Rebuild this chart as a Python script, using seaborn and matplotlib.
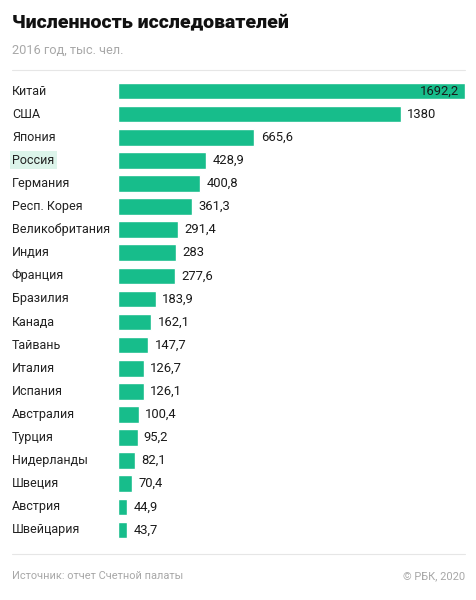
import matplotlib
matplotlib.use("Agg")
import matplotlib.pyplot as plt
import matplotlib.transforms as mtransforms
import seaborn as sns
import pandas as pd

countries = ["Китай", "США", "Япония", "Россия", "Германия", "Респ. Корея",
             "Великобритания", "Индия", "Франция", "Бразилия", "Канада",
             "Тайвань", "Италия", "Испания", "Австралия", "Турция",
             "Нидерланды", "Швеция", "Австрия", "Швейцария"]
values = [1692.2, 1380, 665.6, 428.9, 400.8, 361.3, 291.4, 283, 277.6, 183.9,
          162.1, 147.7, 126.7, 126.1, 100.4, 95.2, 82.1, 70.4, 44.9, 43.7]
highlight = "Россия"

title = "Численность исследователей"
subtitle = "2016 год, тыс. чел."
source = "Источник: отчет Счетной палаты"
copyright_ = "© РБК, 2020"

df = pd.DataFrame({"country": countries, "value": values})

sns.set_theme(style="white")
plt.rcParams['font.family'] = ['Roboto', 'DejaVu Sans']

W, H = 477, 600
fig = plt.figure(figsize=(W / 100, H / 100), dpi=100)
fig.patch.set_facecolor("white")

ax = fig.add_axes([118 / W, 1 - 541.5 / H, (465 - 118) / W, (541.5 - 79.5) / H])
green = "#17bd8b"
sns.barplot(data=df, x="value", y="country", color=green, saturation=1,
            width=0.72, ax=ax, orient="h")
ax.set_xlim(0, max(values))
ax.set_xlabel("")
ax.set_ylabel("")
ax.set_xticks([])
ax.set_yticks([])
for s in ax.spines.values():
    s.set_visible(False)
ax.set_facecolor("none")

def fmt(v):
    s = f"{v:.1f}".rstrip("0").rstrip(".")
    return s.replace(".", ",")

trans_lab = mtransforms.blended_transform_factory(fig.transFigure, ax.transData)
for i, (c, v) in enumerate(zip(countries, values)):
    if c == highlight:
        ax.text(12 / W, i, c, transform=trans_lab, ha="left", va="center",
                fontsize=9.0, color="#222222",
                bbox=dict(boxstyle="square,pad=0.2", fc="#dcf4ea", ec="none"))
    else:
        ax.text(12 / W, i, c, transform=trans_lab, ha="left", va="center",
                fontsize=9.0, color="#222222")
    if v == max(values):
        ax.annotate(fmt(v), xy=(v, i), xytext=(-4, 0), textcoords="offset points",
                    ha="right", va="center", fontsize=9.4, color="#1a1a1a")
    else:
        ax.annotate(fmt(v), xy=(v, i), xytext=(4.5, 0), textcoords="offset points",
                    ha="left", va="center", fontsize=9.4, color="#1a1a1a")

fig.text(12 / W, 1 - 22 / H, title, ha="left", va="center", fontsize=14,
         fontweight="black", color="#111111")
fig.text(12 / W, 1 - 50 / H, subtitle, ha="left", va="center", fontsize=9.2,
         color="#a8a8a8")
fig.add_artist(plt.Line2D([12 / W, 465 / W], [1 - 70 / H, 1 - 70 / H],
                          color="#e6e6e6", lw=0.8))
fig.add_artist(plt.Line2D([12 / W, 465 / W], [1 - 554 / H, 1 - 554 / H],
                          color="#e6e6e6", lw=0.8))
fig.text(12 / W, 1 - 576 / H, source, ha="left", va="center", fontsize=7.9,
         color="#a8a8a8")
fig.text(465 / W, 1 - 576 / H, copyright_, ha="right", va="center", fontsize=7.9,
         color="#a8a8a8")

fig.savefig("out.png", dpi=100, facecolor="white")
